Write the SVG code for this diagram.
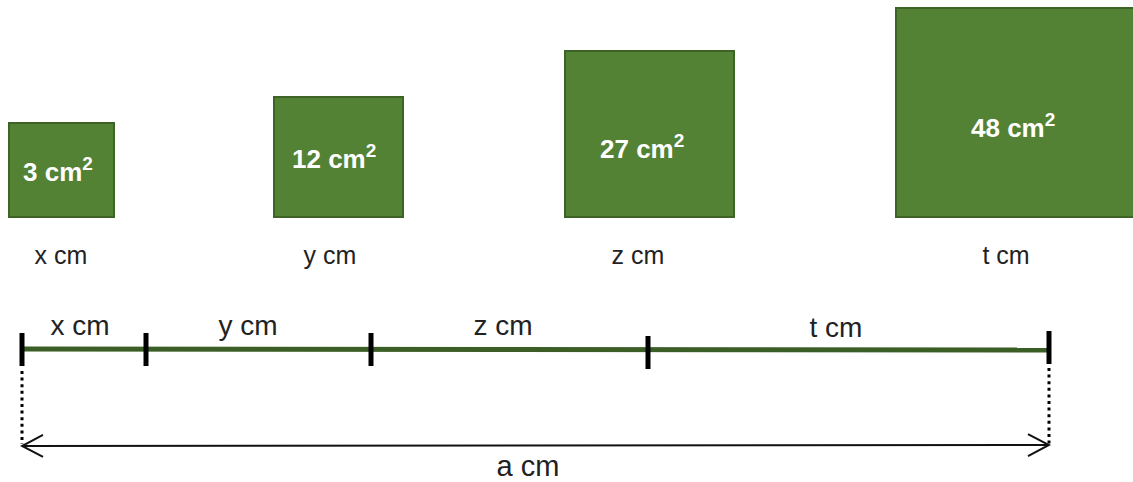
<svg xmlns="http://www.w3.org/2000/svg" width="1133" height="482" viewBox="0 0 1133 482">
<style>
.sq{fill:#548235;stroke:#3d6326;stroke-width:2}
.area{font-family:"Liberation Sans",Arial,sans-serif;font-weight:bold;font-size:26px;fill:#ffffff}
.sup{font-size:19px}
.lbl{font-family:"Liberation Sans",Arial,sans-serif;font-size:25px;fill:#222222;text-anchor:middle}
.seg{font-family:"Liberation Sans",Arial,sans-serif;font-size:28px;fill:#222222;text-anchor:middle}
.bar{stroke:#3a5e26;stroke-width:5;fill:none}
.tick{stroke:#000000;stroke-width:5;fill:none}
.dot{stroke:#000000;stroke-width:3;stroke-dasharray:3 3.6;fill:none}
.dim{stroke:#111111;stroke-width:2;fill:none}
</style>
<defs>
<marker id="open" viewBox="0 0 24 24" refX="22" refY="12" markerWidth="24" markerHeight="24" markerUnits="userSpaceOnUse" orient="auto-start-reverse">
<path d="M1,1 L22,12 L1,23" fill="none" stroke="#111111" stroke-width="2"/>
</marker>
</defs>
<rect width="1133" height="482" fill="#ffffff"/>
<g id="square-x">
<rect class="sq" x="9" y="123" width="105" height="94"/>
<text class="area" x="23" y="181">3 cm<tspan class="sup" dy="-11">2</tspan></text>
<text class="lbl" x="61" y="264">x cm</text>
</g>
<g id="square-y">
<rect class="sq" x="274" y="97" width="129" height="120"/>
<text class="area" x="292" y="168">12 cm<tspan class="sup" dy="-11">2</tspan></text>
<text class="lbl" x="330" y="264">y cm</text>
</g>
<g id="square-z">
<rect class="sq" x="565" y="51" width="169" height="166"/>
<text class="area" x="600" y="158">27 cm<tspan class="sup" dy="-11">2</tspan></text>
<text class="lbl" x="638" y="264">z cm</text>
</g>
<g id="square-t">
<rect class="sq" x="896" y="8" width="240" height="209"/>
<text class="area" x="971" y="137">48 cm<tspan class="sup" dy="-11">2</tspan></text>
<text class="lbl" x="1006" y="264">t cm</text>
</g>
<g id="connectors">
<line class="bar" x1="22" y1="349" x2="1049" y2="350"/>
<line class="tick" x1="22" y1="333" x2="22" y2="366"/>
<line class="tick" x1="146" y1="333" x2="146" y2="366"/>
<line class="tick" x1="371" y1="333" x2="371" y2="366"/>
<line class="tick" x1="648" y1="336" x2="648" y2="369"/>
<line class="tick" x1="1049" y1="331" x2="1049" y2="364"/>
<line class="dot" x1="22" y1="371" x2="22" y2="444"/>
<line class="dot" x1="1049" y1="368" x2="1049" y2="444"/>
<line class="dim" x1="22" y1="446" x2="1049" y2="445" marker-start="url(#open)" marker-end="url(#open)"/>
</g>
<g id="segment-labels">
<text class="seg" x="80" y="335">x cm</text>
<text class="seg" x="248" y="335">y cm</text>
<text class="seg" x="503" y="335">z cm</text>
<text class="seg" x="836" y="337">t cm</text>
<text class="seg" x="528" y="476" style="font-size:29px">a cm</text>
</g>
</svg>
